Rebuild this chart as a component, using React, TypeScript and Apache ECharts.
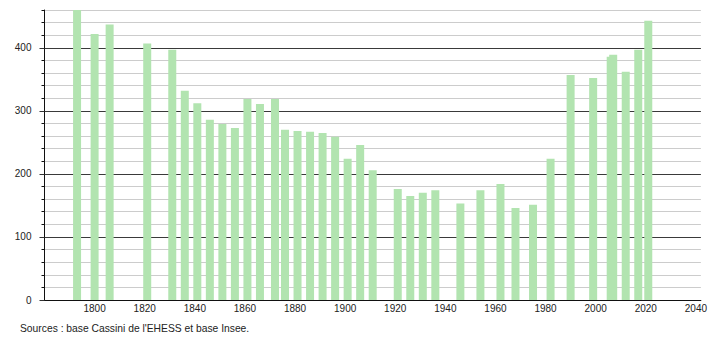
import React, { useEffect, useRef } from "react";
import * as echarts from "echarts";

const years = [
  1793, 1800, 1806, 1821, 1831, 1836, 1841, 1846, 1851, 1856, 1861, 1866, 1872,
  1876, 1881, 1886, 1891, 1896, 1901, 1906, 1911, 1921, 1926, 1931, 1936, 1946,
  1954, 1962, 1968, 1975, 1982, 1990, 1999, 2006, 2007, 2012, 2017, 2021,
];
const population = [
  460, 422, 437, 407, 397, 332, 312, 286, 279, 273, 319, 311, 319,
  270, 268, 267, 265, 259, 224, 246, 206, 176, 165, 170, 174, 153,
  174, 184, 146, 151, 224, 357, 352, 386, 389, 362, 397, 443,
];
const yMajorTicks = [0, 100, 200, 300, 400];
const sourceText = "Sources : base Cassini de l'EHESS et base Insee.";

const FONT = "'Liberation Sans', Arial, sans-serif";

export default function App() {
  const ref = useRef<HTMLDivElement>(null);
  useEffect(() => {
    if (!ref.current) return;
    const chart = echarts.init(ref.current, undefined, { renderer: "svg" });
    chart.setOption({
      animation: false,
      backgroundColor: "#ffffff",
      textStyle: { fontFamily: FONT },
      grid: { left: 44.5, right: 9, top: 10, bottom: 40, containLabel: false },
      xAxis: {
        type: "value",
        min: 1780,
        max: 2042,
        interval: 20,
        axisLine: { show: true, lineStyle: { color: "#111", width: 1 } },
        axisTick: { show: false },
        splitLine: { show: false },
        axisLabel: {
          showMinLabel: false,
          showMaxLabel: false,
          margin: 3,
          color: "#222",
          fontSize: 10,
          fontFamily: FONT,
          formatter: (v: number) => (v % 20 === 0 && v !== 1780 ? String(v) : ""),
        },
      },
      yAxis: [
        {
          type: "value",
          min: 0,
          max: 460,
          interval: 20,
          axisLine: { show: true, lineStyle: { color: "#111", width: 1 } },
          axisTick: { show: true, length: 3, lineStyle: { color: "#111" } },
          splitLine: { show: true, lineStyle: { color: "#cccccc", width: 1 } },
          axisLabel: {
            margin: 13,
            color: "#222",
            fontSize: 10,
            fontFamily: FONT,
            formatter: (v: number) => (v % 100 === 0 ? String(v) : ""),
          },
        },
        {
          type: "value",
          min: 0,
          max: 460,
          interval: 100,
          position: "left",
          axisLine: { show: false },
          axisTick: {
            show: true,
            length: 5,
            customValues: yMajorTicks,
            lineStyle: { color: "#333" },
          },
          axisLabel: { show: false },
          splitLine: {
            show: true,
            lineStyle: {
              color: ["#3a3a3a", "#3a3a3a", "#3a3a3a", "#3a3a3a", "#3a3a3a", "#cccccc"],
              width: 1,
            },
          },
        },
      ],
      series: [
        {
          type: "bar",
          xAxisIndex: 0,
          yAxisIndex: 0,
          barWidth: 8,
          itemStyle: { color: "#b2e4b0" },
          data: years.map((y, i) => [y, population[i]]),
        },
      ],
      graphic: [
        {
          type: "text",
          left: 20,
          top: 323.5,
          style: {
            text: sourceText,
            fill: "#222",
            font: `10.3px ${FONT}`,
          },
        },
      ],
    });
    return () => chart.dispose();
  }, []);
  return (
    <div
      ref={ref}
      style={{ position: "fixed", left: 0, top: 0, width: 710, height: 340 }}
    />
  );
}
